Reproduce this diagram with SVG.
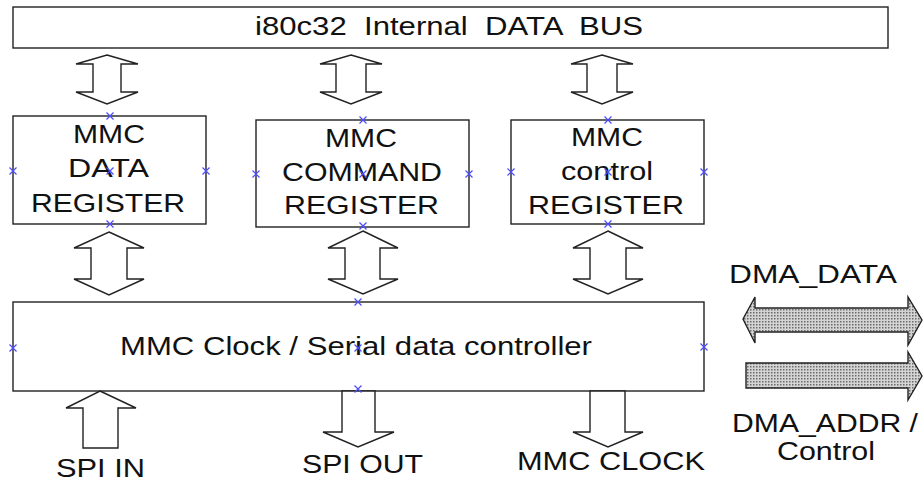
<svg xmlns="http://www.w3.org/2000/svg" width="923" height="484" viewBox="0 0 923 484">
  <style>
    .box { fill: #ffffff; stroke: #222222; stroke-width: 1.4; }
    .bus { fill: #ffffff; stroke: #222222; stroke-width: 1.4; stroke-linejoin: miter; }
    .dma { fill: url(#dots); stroke: #222222; stroke-width: 1.4; }
    .lbl { font-family: "Liberation Sans", Arial, sans-serif; font-size: 25px; fill: #111111; }
    .mk { stroke: #4b4bff; stroke-width: 1.2; fill: none; }
  </style>
  <defs>
    <pattern id="dots" width="3" height="3" patternUnits="userSpaceOnUse">
      <rect width="3" height="3" fill="#d4d4d4"/>
      <rect x="0" y="0" width="1.5" height="1.5" fill="#6a6a6a"/>
    </pattern>
    <path id="x" d="M-3.5,-3.5 L3.5,3.5 M-3.5,3.5 L3.5,-3.5"/>
  </defs>

  <!-- internal data bus -->
  <g id="data-bus">
    <rect class="box" x="13" y="7" width="875" height="41"/>
    <text class="lbl" x="255" y="35" font-size="24" textLength="388" lengthAdjust="spacingAndGlyphs" style="white-space:pre">i80c32  Internal  DATA  BUS</text>
  </g>

  <!-- registers -->
  <g id="data-register">
    <rect class="box" x="13" y="116" width="193" height="108"/>
    <text class="lbl" x="73" y="143" textLength="72" lengthAdjust="spacingAndGlyphs">MMC</text>
    <text class="lbl" x="68" y="177" textLength="81" lengthAdjust="spacingAndGlyphs">DATA</text>
    <text class="lbl" x="31" y="212" textLength="154" lengthAdjust="spacingAndGlyphs">REGISTER</text>
  </g>
  <g id="command-register">
    <rect class="box" x="256" y="120" width="213" height="107"/>
    <text class="lbl" x="325" y="147" textLength="72" lengthAdjust="spacingAndGlyphs">MMC</text>
    <text class="lbl" x="282" y="181" textLength="160" lengthAdjust="spacingAndGlyphs">COMMAND</text>
    <text class="lbl" x="284" y="214" textLength="155" lengthAdjust="spacingAndGlyphs">REGISTER</text>
  </g>
  <g id="control-register">
    <rect class="box" x="511" y="120" width="193" height="104"/>
    <text class="lbl" x="571" y="146" textLength="72" lengthAdjust="spacingAndGlyphs">MMC</text>
    <text class="lbl" x="561" y="180" textLength="92" lengthAdjust="spacingAndGlyphs">control</text>
    <text class="lbl" x="528" y="214" textLength="156" lengthAdjust="spacingAndGlyphs">REGISTER</text>
  </g>

  <!-- serial controller -->
  <g id="serial-controller">
    <rect class="box" x="13" y="302" width="691" height="89"/>
    <text class="lbl" x="120" y="355" textLength="472" lengthAdjust="spacingAndGlyphs">MMC Clock / Serial data controller</text>
  </g>

  <!-- external signal labels -->
  <g id="spi-in">
    <text class="lbl" x="56" y="477" textLength="89" lengthAdjust="spacingAndGlyphs">SPI IN</text>
  </g>
  <g id="spi-out">
    <text class="lbl" x="302" y="473" textLength="121" lengthAdjust="spacingAndGlyphs">SPI OUT</text>
  </g>
  <g id="mmc-clock">
    <text class="lbl" x="517" y="470" textLength="188" lengthAdjust="spacingAndGlyphs">MMC CLOCK</text>
  </g>
  <g id="dma-data">
    <text class="lbl" x="729" y="283" textLength="168" lengthAdjust="spacingAndGlyphs">DMA_DATA</text>
  </g>
  <g id="dma-addr">
    <text class="lbl" x="732" y="432" font-size="24" textLength="186" lengthAdjust="spacingAndGlyphs">DMA_ADDR /</text>
    <text class="lbl" x="777" y="460" font-size="24" textLength="98" lengthAdjust="spacingAndGlyphs">Control</text>
  </g>

  <!-- block arrows between blocks -->
  <g id="connectors">
    <!-- bus to registers -->
    <polygon class="bus" points="107,55 138,64 121,64 121,92 138,92 107,104 76,92 93,92 93,64 76,64"/>
    <polygon class="bus" points="351,55 382,64 366,64 366,92 382,92 351,104 320,92 336,92 336,64 320,64"/>
    <polygon class="bus" points="602,55 633,64 617,64 617,92 633,92 602,104 571,92 587,92 587,64 571,64"/>
    <!-- registers to controller -->
    <polygon class="bus" points="109,232 144,248 127,248 127,279 144,279 109,295 74,279 91,279 91,248 74,248"/>
    <polygon class="bus" points="363,231 398,248 380,248 380,279 398,279 363,294 328,279 345,279 345,248 328,248"/>
    <polygon class="bus" points="608,231 643,248 626,248 626,279 643,279 608,294 573,279 590,279 590,248 573,248"/>
    <!-- serial lines -->
    <polygon class="bus" points="100,391 136,408 118,408 118,448 83,448 83,408 66,408"/>
    <polygon class="bus" points="342,391 375,391 375,432 394,432 358,447 323,432 342,432"/>
    <polygon class="bus" points="590,391 625,391 625,432 643,432 608,447 573,432 590,432"/>
    <!-- DMA paths -->
    <polygon class="dma" points="743,319 755,297 755,308 908,308 908,297 922,320 908,345 908,332 755,332 755,343"/>
    <polygon class="dma" points="746,363 908,363 908,352 922,376 908,400 908,388 746,388"/>
  </g>

  <!-- connection point markers -->
  <g id="markers" class="mk">
    <use href="#x" x="110" y="116"/><use href="#x" x="13" y="171"/><use href="#x" x="110" y="171"/><use href="#x" x="206" y="171"/><use href="#x" x="110" y="224"/>
    <use href="#x" x="363" y="120"/><use href="#x" x="256" y="174"/><use href="#x" x="363" y="174"/><use href="#x" x="469" y="174"/><use href="#x" x="363" y="226"/>
    <use href="#x" x="608" y="120"/><use href="#x" x="511" y="172"/><use href="#x" x="608" y="172"/><use href="#x" x="704" y="172"/><use href="#x" x="608" y="224"/>
    <use href="#x" x="358" y="302"/><use href="#x" x="13" y="348"/><use href="#x" x="358" y="348"/><use href="#x" x="704" y="347"/><use href="#x" x="358" y="389"/>
  </g>
</svg>
